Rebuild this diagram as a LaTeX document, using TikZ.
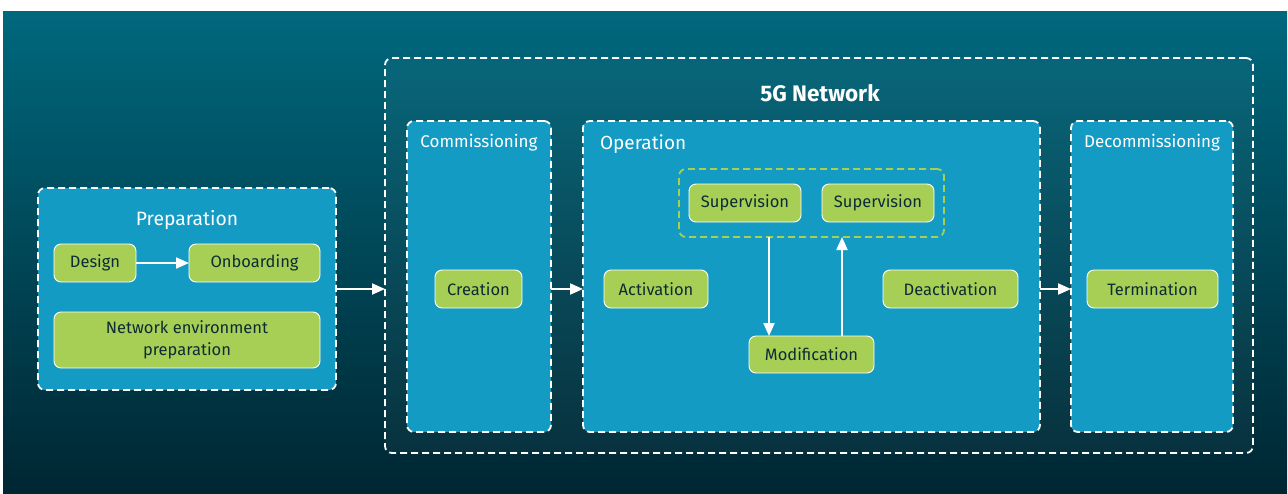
\documentclass[tikz,border=0pt]{standalone}
\usepackage{fontspec}
\setmainfont{Fira Sans}
\usetikzlibrary{arrows.meta, positioning, calc}
\definecolor{bgtop}{HTML}{00687D}
\definecolor{bgbot}{HTML}{002632}
\definecolor{phasefill}{HTML}{139BC4}
\definecolor{taskfill}{HTML}{A8CF55}
\definecolor{tasktext}{HTML}{0D2B35}

\begin{document}
\begin{tikzpicture}[x=1pt, y=-1pt,
  every node/.style={align=center, inner sep=0pt, outer sep=0pt},
  phase/.style={draw=white, fill=phasefill, line width=1.8pt, dash pattern=on 7pt off 4pt, rounded corners=7pt},
  netbox/.style={draw=white, fill=white, fill opacity=0.03, draw opacity=1, line width=1.8pt, dash pattern=on 7pt off 4pt, rounded corners=7pt},
  task/.style={draw=white, fill=taskfill, line width=0.9pt, rounded corners=7pt, text=tasktext, font=\fontsize{16.5}{22}\selectfont, minimum height=38pt},
  group/.style={draw=taskfill, line width=1.8pt, dash pattern=on 7pt off 4pt, rounded corners=7pt},
  title/.style={text=white, font=\fontsize{17}{20}\selectfont},
  flow/.style={draw=white, line width=2pt, -{Triangle[length=13pt, width=11pt]}}]
\useasboundingbox (0,0) rectangle (1288,493);
\fill[top color=bgtop, bottom color=bgbot] (3,11) rectangle (1287,493);

% preparation
\node (prep) [phase, minimum width=298pt, minimum height=202pt] at (187,289) {};
\node (prepT) [title, font=\fontsize{19.3}{22}\selectfont] at (187,220) {Preparation};
\node (design) [task, minimum width=82pt] at (95,263) {Design};
\node (onboard) [task, minimum width=131pt] at (254.5,263) {Onboarding};
\node (netenv) [task, minimum width=266pt, minimum height=56pt] at (187,340) {Network environment\\preparation};

% 5G network
\node (net) [netbox, minimum width=868pt, minimum height=395pt] at (819,255.5) {};
\node (netT) [text=white, font=\fontsize{22.5}{24}\selectfont\bfseries] at (820,93) {5G Network};

\node (comm) [phase, minimum width=144pt, minimum height=311pt] at (479,276.5) {};
\node (commT) [title] at (479,143) {Commissioning};
\node (creation) [task, minimum width=87pt] at (478.5,289) {Creation};

\node (oper) [phase, minimum width=457pt, minimum height=311pt] at (811.5,276.5) {};
\node (operT) [title, anchor=west, font=\fontsize{19}{22}\selectfont] at (600,144) {Operation};
\node (activation) [task, minimum width=104pt] at (656,289) {Activation};
\node (superv) [group, minimum width=265pt, minimum height=68pt] at (811.5,203) {};
\node (sup1) [task, minimum width=112pt] at (745,203) {Supervision};
\node (sup2) [task, minimum width=112pt] at (878,203) {Supervision};
\node (modif) [task, minimum width=125pt, minimum height=37pt] at (811.5,354.5) {Modification};
\node (deact) [task, minimum width=135pt] at (950.5,289) {Deactivation};

\node (decom) [phase, minimum width=162pt, minimum height=311pt] at (1152,276.5) {};
\node (decomT) [title] at (1152,143) {Decommissioning};
\node (term) [task, minimum width=131pt] at (1152.5,289) {Termination};

% arrows
\draw[flow] (design) -- (onboard);
\draw[flow] (prep.east) -- (prep.east -| net.west);
\draw[flow] (creation -| comm.east) -- (creation -| oper.west);
\draw[flow] (term -| oper.east) -- (term -| decom.west);
\draw[flow] ([xshift=-42.5pt]superv.south) -- ([xshift=-42.5pt]modif.north);
\draw[flow] ([xshift=30.5pt]modif.north) -- ([xshift=30.5pt]superv.south);
\end{tikzpicture}
\end{document}
